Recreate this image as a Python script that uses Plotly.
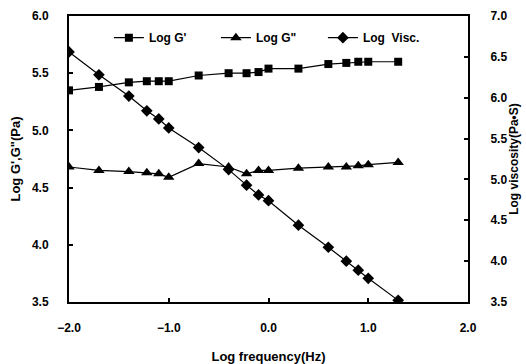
import plotly.graph_objects as go

log_freq = [-2.0, -1.7, -1.4, -1.22, -1.1, -1.0, -0.7, -0.4, -0.22, -0.1,
            0.0, 0.3, 0.6, 0.78, 0.9, 1.0, 1.3]
log_g1 = [5.35, 5.38, 5.42, 5.43, 5.43, 5.43, 5.48, 5.50, 5.50, 5.51,
          5.54, 5.54, 5.58, 5.59, 5.60, 5.60, 5.60]
log_g2 = [4.68, 4.65, 4.64, 4.63, 4.62, 4.59, 4.71, 4.68, 4.62, 4.65,
          4.65, 4.67, 4.68, 4.68, 4.69, 4.70, 4.72]
log_visc = [6.56, 6.28, 6.02, 5.84, 5.74, 5.63, 5.39, 5.12, 4.93, 4.81,
            4.74, 4.44, 4.17, 4.00, 3.89, 3.79, 3.52]

x_ticks = [-2.0, -1.0, 0.0, 1.0, 2.0]
x_ticklabels = ["\u22122.0", "\u22121.0", "0.0", "1.0", "2.0"]

font = "Liberation Sans, Arial, sans-serif"

fig = go.Figure()
fig.add_trace(go.Scatter(x=log_freq, y=log_g1, name="Log G'", mode="lines+markers",
                         line=dict(color="black", width=1.2),
                         marker=dict(symbol="square", size=8, color="black")))
fig.add_trace(go.Scatter(x=log_freq, y=log_g2, name="Log G\"", mode="lines+markers",
                         line=dict(color="black", width=1.2),
                         marker=dict(symbol="triangle-up", size=10, color="black")))
fig.add_trace(go.Scatter(x=log_freq, y=log_visc, name="Log  Visc.", mode="lines+markers",
                         yaxis="y2",
                         line=dict(color="black", width=1.2),
                         marker=dict(symbol="diamond", size=9, color="black")))

tickfont = dict(family=font, size=12, color="black", weight="bold")
axis_common = dict(showline=True, linecolor="black", linewidth=2, ticks="inside",
                   ticklen=4, tickcolor="black", tickwidth=1.5, showgrid=False,
                   zeroline=False, tickfont=tickfont, automargin=False)
title_font = dict(family=font, size=13, color="black", weight="bold")

fig.update_layout(
    width=526, height=364,
    margin=dict(l=69, r=58, t=16, b=62),
    paper_bgcolor="white", plot_bgcolor="white",
    font=dict(family=font, size=12, color="black"),
    xaxis=dict(range=[-2.0, 2.0], tickvals=x_ticks, ticktext=x_ticklabels,
               mirror=True, ticklabelstandoff=14,
               title=dict(text="Log frequency(Hz)", font=title_font, standoff=18),
               **axis_common),
    yaxis=dict(range=[3.5, 6.0], dtick=0.5, tickformat=".1f",
               ticklabelstandoff=16,
               title=dict(text="Log G',G\"(Pa)", font=title_font, standoff=8),
               **axis_common),
    yaxis2=dict(range=[3.5, 7.0], dtick=0.5, tickformat=".1f", overlaying="y",
                side="right", ticklabelstandoff=18,
                title=dict(text="Log viscosity(Pa\u2022S)",
                           font=dict(family=font, size=12, color="black", weight="bold"),
                           standoff=0),
                **axis_common),
    legend=dict(orientation="h", x=0.1, y=0.975, xanchor="left", yanchor="top",
                bgcolor="rgba(0,0,0,0)",
                font=dict(family=font, size=12, weight="bold"),
                itemwidth=30, entrywidth=62, tracegroupgap=0),
    showlegend=True,
)

fig.write_html("out.html")
